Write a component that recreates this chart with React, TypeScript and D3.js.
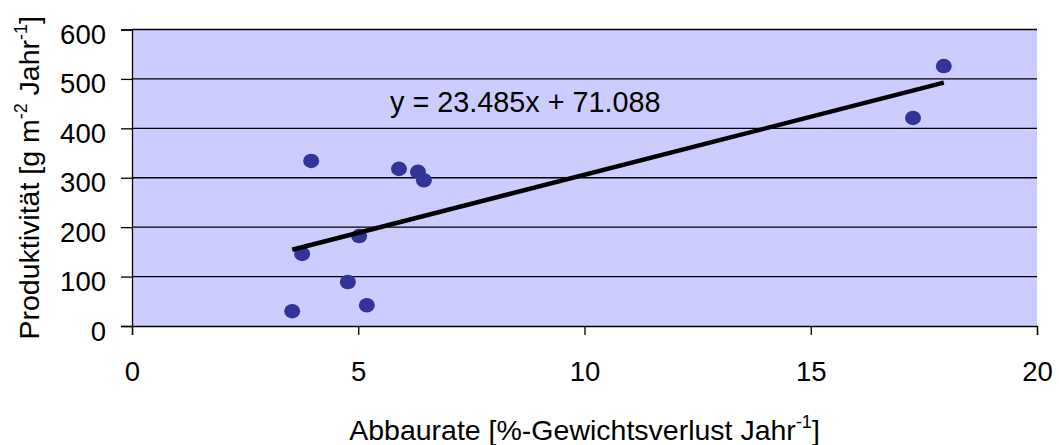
import React, { useEffect, useRef } from 'react';
import * as d3 from 'd3';

// values
const abbaurate = [3.54, 3.76, 3.96, 4.77, 5.02, 5.19, 5.9, 6.32, 6.45, 17.26, 17.94];
const produktivitaet = [30, 146, 334, 89, 182, 42, 318, 312, 295, 421, 526];
const xTicks = [0, 5, 10, 15, 20];
const yTicks = [0, 100, 200, 300, 400, 500, 600];
const slope = 23.485;
const intercept = 71.088;
const equationLabel = 'y = 23.485x + 71.088';

const width = 1059;
const height = 445;
const font = '"Liberation Sans", Arial, sans-serif';

export default function App() {
  const ref = useRef<SVGSVGElement>(null);

  useEffect(() => {
    const svg = d3.select(ref.current);
    svg.selectAll('*').remove();

    const margin = { top: 29.5, right: 22, bottom: 119, left: 132 };
    const boundedWidth = width - margin.left - margin.right;
    const boundedHeight = height - margin.top - margin.bottom;

    const xScale = d3.scaleLinear().domain([0, 20]).range([0, boundedWidth]);
    const yScale = d3.scaleLinear().domain([0, 600]).range([boundedHeight, 0]);

    const bounds = svg.append('g')
      .attr('transform', `translate(${margin.left},${margin.top})`);

    bounds.append('rect')
      .attr('width', boundedWidth)
      .attr('height', boundedHeight)
      .attr('fill', '#CCCCFF');

    // horizontal grid
    bounds.append('g')
      .selectAll('line')
      .data(yTicks.filter(d => d > 0))
      .enter()
      .append('line')
      .attr('x1', 0)
      .attr('x2', boundedWidth)
      .attr('y1', d => yScale(d))
      .attr('y2', d => yScale(d))
      .attr('stroke', '#000')
      .attr('stroke-width', 1.3);

    // y axis
    const yAxis = bounds.append('g')
      .call(d3.axisLeft(yScale).tickValues(yTicks).tickSize(11).tickPadding(26 - 11));
    yAxis.select('.domain').attr('stroke', '#000').attr('stroke-width', 1.3);
    yAxis.selectAll('.tick line').attr('stroke', '#000').attr('stroke-width', 1.3);
    yAxis.selectAll('.tick text')
      .attr('dy', '14px')
      .attr('fill', '#000')
      .style('font-family', font)
      .style('font-size', '27.5px');

    // x axis
    const xAxis = bounds.append('g')
      .attr('transform', `translate(0,${boundedHeight})`)
      .call(d3.axisBottom(xScale).tickValues(xTicks).tickSize(9).tickPadding(26));
    xAxis.select('.domain').attr('stroke', '#000').attr('stroke-width', 1.3);
    xAxis.selectAll('.tick line').attr('stroke', '#000').attr('stroke-width', 1.3);
    xAxis.selectAll('.tick text')
      .attr('fill', '#000')
      .style('font-family', font)
      .style('font-size', '27.5px');

    // points
    const points = abbaurate.map((x, i) => ({ x, y: produktivitaet[i] }));
    bounds.append('g')
      .selectAll('ellipse')
      .data(points)
      .enter()
      .append('ellipse')
      .attr('cx', d => xScale(d.x))
      .attr('cy', d => yScale(d.y))
      .attr('rx', 8)
      .attr('ry', 7.3)
      .attr('fill', '#333399');

    // trend line
    const xExtent = d3.extent(abbaurate) as [number, number];
    const trend = xExtent.map(x => ({ x, y: slope * x + intercept }));
    const lineGenerator = d3.line<{ x: number; y: number }>()
      .x(d => xScale(d.x))
      .y(d => yScale(d.y));
    bounds.append('path')
      .attr('d', lineGenerator(trend))
      .attr('fill', 'none')
      .attr('stroke', '#000')
      .attr('stroke-width', 4.5);

    bounds.append('text')
      .attr('x', 390 - margin.left)
      .attr('y', 111.5 - margin.top)
      .style('font-family', font)
      .style('font-size', '28.8px')
      .text(equationLabel);

    // axis titles
    const xTitle = svg.append('text')
      .attr('x', margin.left + boundedWidth / 2)
      .attr('y', 440)
      .attr('text-anchor', 'middle')
      .style('font-family', font)
      .style('font-size', '28.5px');
    xTitle.append('tspan').text('Abbaurate [%-Gewichtsverlust Jahr');
    xTitle.append('tspan').attr('dy', -12).style('font-size', '18px').text('-1');
    xTitle.append('tspan').attr('dy', 12).text(']');

    const yTitle = svg.append('text')
      .attr('transform', `translate(39,${margin.top + boundedHeight / 2}) rotate(-90)`)
      .attr('text-anchor', 'middle')
      .style('font-family', font)
      .style('font-size', '28.5px');
    yTitle.append('tspan').text('Produktivität [g m');
    yTitle.append('tspan').attr('dy', -12).style('font-size', '18px').text('-2');
    yTitle.append('tspan').attr('dy', 12).text(' Jahr');
    yTitle.append('tspan').attr('dy', -12).style('font-size', '18px').text('-1');
    yTitle.append('tspan').attr('dy', 12).text(']');
  }, []);

  return (
    <svg
      ref={ref}
      width={width}
      height={height}
      style={{ position: 'absolute', left: 0, top: 0, background: '#fff' }}
    />
  );
}
